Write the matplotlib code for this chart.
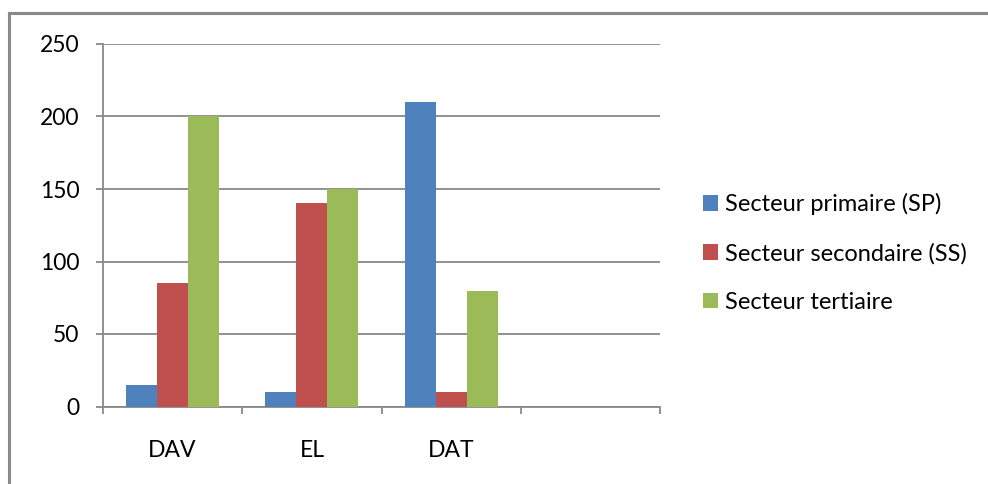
import numpy as np
import matplotlib
matplotlib.use("Agg")
import matplotlib.pyplot as plt
from matplotlib.lines import Line2D
from matplotlib.patches import Patch

plt.rcParams['font.family'] = ['Lato', 'DejaVu Sans']

# categories (the fourth slot is left empty)
categories = ['DAV', 'EL', 'DAT', '']
series_names = ['Secteur primaire (SP)', 'Secteur secondaire (SS)', 'Secteur tertiaire']
sp = [15, 10, 210, np.nan]
ss = [85, 140, 10, np.nan]
st = [200, 150, 80, np.nan]
colors = ['#4F81BD', '#C0504D', '#9BBB59']
yticks = [0, 50, 100, 150, 200, 250]

W, H = 988, 484
fig = plt.figure(figsize=(W / 100, H / 100), dpi=100)

# outer chart frame (top and left edges visible)
grey = '#898989'
fig.add_artist(Line2D([9 / W, 1], [1 - 13 / H, 1 - 13 / H], color=grey, lw=2.2, transform=fig.transFigure))
fig.add_artist(Line2D([9 / W, 9 / W], [0, 1 - 13 / H], color=grey, lw=2.2, transform=fig.transFigure))

left, right, top, bottom = 103, 660, 44, 406.5
ax = fig.add_axes([left / W, (H - bottom) / H, (right - left) / W, (bottom - top) / H])

x = np.arange(len(categories))
bw = 0.667 / 3
for i, vals in enumerate([sp, ss, st]):
    ax.bar(x + (i - 1) * bw, vals, width=bw, color=colors[i], label=series_names[i], zorder=3)

ax.set_xlim(-0.5, len(categories) - 0.5)
ax.set_ylim(0, 250)
ax.set_yticks(yticks)
ax.yaxis.grid(True, color=grey, lw=1.3, zorder=0)
ax.set_axisbelow(True)

for s in ['top', 'right']:
    ax.spines[s].set_visible(False)
for s in ['left', 'bottom']:
    ax.spines[s].set_color(grey)
    ax.spines[s].set_linewidth(1.3)

ax.tick_params(axis='y', direction='out', length=5, color=grey, width=1.3, labelsize=16.5, pad=12)
ax.set_xticks(x)
ax.set_xticklabels(categories)
ax.set_xticks(np.arange(-0.5, len(categories)), minor=True)
ax.tick_params(axis='x', which='major', length=0, labelsize=16.5, pad=24)
ax.tick_params(axis='x', which='minor', direction='out', length=5, color=grey, width=1.3)

handles = [Patch(facecolor=c) for c in colors]
fig.legend(handles, series_names, loc='center left', bbox_to_anchor=(703 / W, 1 - 253 / H),
           frameon=False, fontsize=17, handlelength=0.64, handleheight=0.64,
           handletextpad=0.3, labelspacing=1.16, borderaxespad=0, borderpad=0)

fig.savefig('out.png', dpi=100)
